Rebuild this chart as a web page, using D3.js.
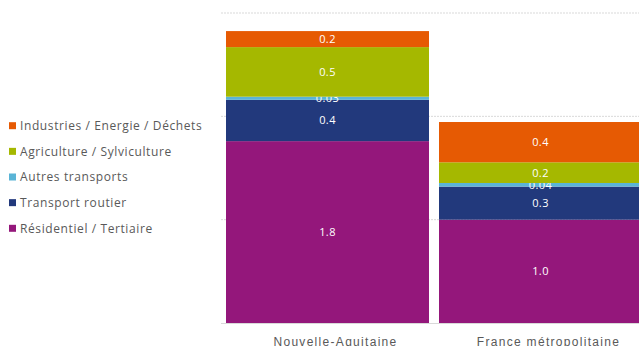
<!DOCTYPE html>
<html lang="fr">
<head>
<meta charset="UTF-8">
<title>Emissions par secteur</title>
<script src="https://d3js.org/d3.v7.min.js"></script>
<style>
body { margin: 0; background: #fff; }
svg { display: block; font-family: "Open Sans", sans-serif; }
.grid line { stroke: #d9d9d9; stroke-dasharray: 2,1; }
.legend text { fill: #595959; font-size: 12px; letter-spacing: 0.6px; }
.cat text { fill: #595959; font-size: 12px; letter-spacing: 1.3px; }
.val { fill: #fff; font-size: 11px; letter-spacing: 0.4px; text-anchor: middle; }
</style>
</head>
<body>
<script>
var width = 639, height = 346;

// categories and series (bottom to top)
var categories = ['Nouvelle-Aquitaine', 'France métropolitaine'];
var series = ['Résidentiel / Tertiaire', 'Transport routier', 'Autres transports', 'Agriculture / Sylviculture', 'Industries / Energie / Déchets'];
var colors = ['#94177b', '#22397c', '#5ab4d6', '#a5b800', '#e65a03'];

var residentiel = [1.76, 1.0];
var routier     = [0.40, 0.32];
var autres      = [0.03, 0.035];
var agriculture = [0.48, 0.20];
var industries  = [0.155, 0.39];

// printed labels
var residentielLbl = ['1.8', '1.0'];
var routierLbl     = ['0.4', '0.3'];
var autresLbl      = ['0.03', '0.04'];
var agricultureLbl = ['0.5', '0.2'];
var industriesLbl  = ['0.2', '0.4'];

var yTicks = [0, 1, 2, 3];

var values = [residentiel, routier, autres, agriculture, industries];
var labels = [residentielLbl, routierLbl, autresLbl, agricultureLbl, industriesLbl];

var rows = categories.map(function(c, i) {
  var r = { cat: c };
  series.forEach(function(s, k) { r[s] = values[k][i]; });
  return r;
});
var stacked = d3.stack().keys(series)(rows);

var svg = d3.select('body').append('svg')
  .attr('width', width).attr('height', height);

var x = d3.scaleBand().domain(categories)
  .range([221, 647]).paddingInner(0.047).paddingOuter(0.0235);
var y = d3.scaleLinear().domain([0, 3]).range([323, 13]);

// gridlines
svg.append('g').attr('class', 'grid')
  .selectAll('line').data(yTicks.filter(function(t){ return t > 0; }))
  .enter().append('line')
  .attr('x1', 221).attr('x2', width)
  .attr('y1', function(d){ return y(d); })
  .attr('y2', function(d){ return y(d); });

// bars
var layers = svg.selectAll('.layer').data(stacked).enter()
  .append('g').attr('class', 'layer')
  .attr('fill', function(d, k){ return colors[k]; });

layers.selectAll('rect').data(function(d){ return d; }).enter()
  .append('rect')
  .attr('x', function(d){ return x(d.data.cat); })
  .attr('width', x.bandwidth())
  .attr('y', function(d){ return y(d[1]); })
  .attr('height', function(d){ return y(d[0]) - y(d[1]); });

// value labels
layers.each(function(layer, k) {
  d3.select(this).selectAll('text').data(layer).enter()
    .append('text').attr('class', 'val')
    .attr('x', function(d){ return x(d.data.cat) + x.bandwidth() / 2; })
    .attr('y', function(d){ return (y(d[0]) + y(d[1])) / 2; })
    .attr('dy', '0.36em')
    .text(function(d, i){ return labels[k][i]; });
});

// x axis
var xAxis = d3.axisBottom(x).tickSize(0).tickPadding(14);
var gx = svg.append('g').attr('class', 'cat')
  .attr('transform', 'translate(0,323)')
  .call(xAxis);
gx.select('.domain').attr('stroke', '#d9d9d9').attr('d', 'M221,0.5H' + width);
gx.selectAll('text').attr('dx', 8).attr('dy', '0.71em');

// legend
var leg = svg.append('g').attr('class', 'legend')
  .selectAll('g').data(series.slice().reverse()).enter()
  .append('g')
  .attr('transform', function(d, i){ return 'translate(9,' + (125.7 + i * 25.65) + ')'; });
leg.append('rect').attr('x', 0).attr('y', -3.5).attr('width', 7).attr('height', 7)
  .attr('fill', function(d){ return colors[series.indexOf(d)]; });
leg.append('text').attr('x', 11).attr('dy', '0.35em').text(function(d){ return d; });
</script>
</body>
</html>
